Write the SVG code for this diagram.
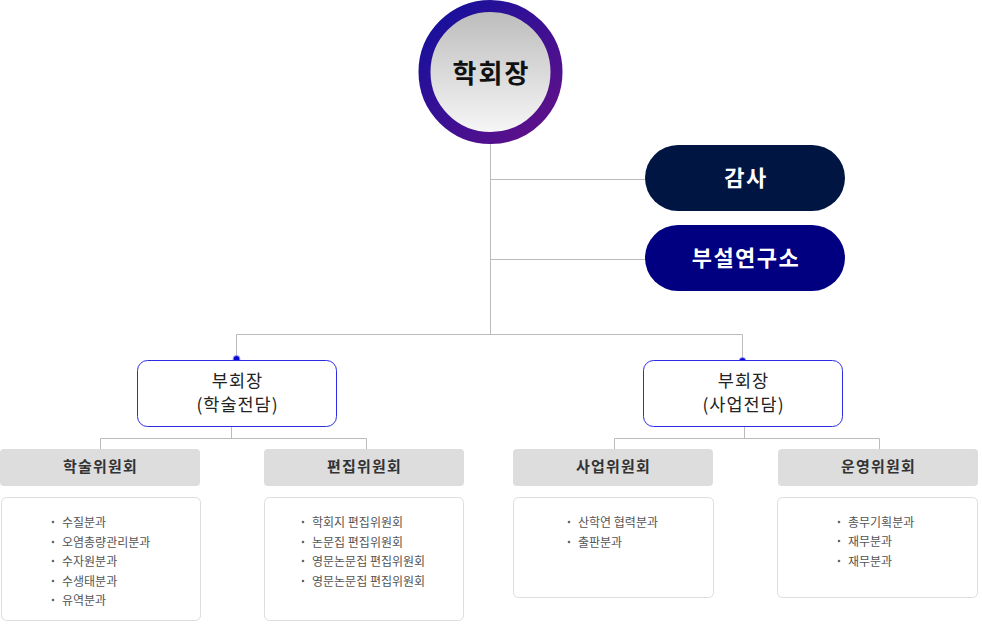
<svg xmlns="http://www.w3.org/2000/svg" width="982" height="631" viewBox="0 0 982 631">
<defs>
<linearGradient id="ring" x1="0" y1="0" x2="1" y2="1">
<stop offset="0" stop-color="#10109e"/>
<stop offset="1" stop-color="#661088"/>
</linearGradient>
<linearGradient id="inner" x1="0" y1="0" x2="0" y2="1">
<stop offset="0" stop-color="#bababa"/>
<stop offset="1" stop-color="#f9f9f9"/>
</linearGradient>
<style>
text{font-family:"Noto Sans CJK KR","Noto Sans",sans-serif;}
.ln{stroke:#bbbbbb;stroke-width:1;fill:none;}
.pill{font-size:22px;font-weight:bold;fill:#ffffff;text-anchor:middle;letter-spacing:1.5px;}
.vp{fill:#ffffff;stroke:#2b2be0;stroke-width:1;}
.vpt{font-size:17.5px;fill:#222;text-anchor:middle;letter-spacing:1px;}
.hd{fill:#dddddd;}
.hdt{font-size:15px;font-weight:bold;fill:#333;text-anchor:middle;letter-spacing:1.2px;}
.bx{fill:#ffffff;stroke:#dddddd;stroke-width:1;}
.it{font-size:12px;fill:#555;}
.dot{fill:#666;}
</style>
</defs>
<g id="connectors">
<path class="ln" d="M490.5 144V334.5M490.5 179.5H646M490.5 259.5H646M236.5 334.5H742.5M236.5 334.5V360M742.5 334.5V360"/>
<path class="ln" d="M231.5 427V438.5M100.5 438.5H366.5M100.5 438.5V449M366.5 438.5V449"/>
<path class="ln" d="M744.5 427V438.5M614.5 438.5H879.5M614.5 438.5V449M879.5 438.5V449"/>
<circle cx="236.5" cy="359" r="3.5" fill="#0a0ad0" stroke="#9fa0ff" stroke-width="1"/>
<circle cx="742.5" cy="361" r="3.5" fill="#0a0ad0" stroke="#9fa0ff" stroke-width="1"/>
</g>
<g id="president">
<circle cx="490.5" cy="72" r="66" fill="url(#inner)" stroke="url(#ring)" stroke-width="12"/>
<text x="491.5" y="83" font-size="26" font-weight="bold" fill="#111" text-anchor="middle" letter-spacing="2">학회장</text>
</g>
<g id="audit">
<rect x="645" y="145" width="200" height="66" rx="33" fill="#001542"/>
<text class="pill" x="746" y="186">감사</text>
</g>
<g id="institute">
<rect x="645" y="225" width="200" height="66" rx="33" fill="#000080"/>
<text class="pill" x="746" y="266">부설연구소</text>
</g>
<g id="vp-academic">
<rect class="vp" x="137.5" y="360.5" width="199" height="66" rx="10"/>
<text class="vpt" x="237.5" y="387">부회장</text>
<text class="vpt" x="237.5" y="411">(학술전담)</text>
</g>
<g id="vp-business">
<rect class="vp" x="643.5" y="360.5" width="199" height="66" rx="10"/>
<text class="vpt" x="743.5" y="387">부회장</text>
<text class="vpt" x="743.5" y="411">(사업전담)</text>
</g>
<g id="academic-committee">
<rect class="hd" x="0" y="449" width="200" height="37" rx="4"/>
<text class="hdt" x="100.5" y="472">학술위원회</text>
<rect class="bx" x="1.5" y="497.5" width="199" height="123" rx="5"/>
<g class="it">
<circle class="dot" cx="53" cy="522" r="1.3"/><text x="62" y="527">수질분과</text>
<circle class="dot" cx="53" cy="542" r="1.3"/><text x="62" y="547">오염총량관리분과</text>
<circle class="dot" cx="53" cy="561" r="1.3"/><text x="62" y="566">수자원분과</text>
<circle class="dot" cx="53" cy="581" r="1.3"/><text x="62" y="586">수생태분과</text>
<circle class="dot" cx="53" cy="600" r="1.3"/><text x="62" y="605">유역분과</text>
</g>
</g>
<g id="editorial-committee">
<rect class="hd" x="264" y="449" width="200" height="37" rx="4"/>
<text class="hdt" x="364.5" y="472">편집위원회</text>
<rect class="bx" x="264.5" y="497.5" width="199" height="123" rx="5"/>
<g class="it">
<circle class="dot" cx="303" cy="522" r="1.3"/><text x="312" y="527">학회지 편집위원회</text>
<circle class="dot" cx="303" cy="542" r="1.3"/><text x="312" y="547">논문집 편집위원회</text>
<circle class="dot" cx="303" cy="561" r="1.3"/><text x="312" y="566">영문논문집 편집위원회</text>
<circle class="dot" cx="303" cy="581" r="1.3"/><text x="312" y="586">영문논문집 편집위원회</text>
</g>
</g>
<g id="business-committee">
<rect class="hd" x="513" y="449" width="200" height="37" rx="4"/>
<text class="hdt" x="613.5" y="472">사업위원회</text>
<rect class="bx" x="513.5" y="497.5" width="200" height="100" rx="5"/>
<g class="it">
<circle class="dot" cx="569" cy="522" r="1.3"/><text x="578" y="527">산학연 협력분과</text>
<circle class="dot" cx="569" cy="542" r="1.3"/><text x="578" y="547">출판분과</text>
</g>
</g>
<g id="operations-committee">
<rect class="hd" x="778" y="449" width="200" height="37" rx="4"/>
<text class="hdt" x="878.5" y="472">운영위원회</text>
<rect class="bx" x="777.5" y="497.5" width="200" height="100" rx="5"/>
<g class="it">
<circle class="dot" cx="839" cy="522" r="1.3"/><text x="848" y="527">총무기획분과</text>
<circle class="dot" cx="839" cy="541" r="1.3"/><text x="848" y="546">재무분과</text>
<circle class="dot" cx="839" cy="561" r="1.3"/><text x="848" y="566">재무분과</text>
</g>
</g>
</svg>
